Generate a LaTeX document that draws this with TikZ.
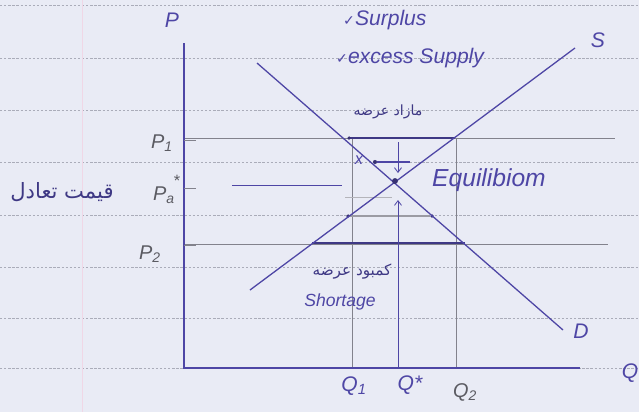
\documentclass[tikz,border=0pt]{standalone}
\usepackage{fontspec}
\setmainfont{Liberation Sans}
\newfontfamily\symfont{DejaVu Sans}
\newfontfamily\arabicfont[Script=Arabic]{DejaVu Sans}
\TeXXeTstate=1
\newcommand\mychk{{\symfont\fontsize{12}{12}\selectfont ✓}}
\usetikzlibrary{arrows.meta}
\definecolor{paper}{RGB}{233,235,245}
\definecolor{ink}{RGB}{78,70,165}
\definecolor{pencil}{RGB}{130,130,140}
\definecolor{rule}{RGB}{170,172,185}
\definecolor{margin}{RGB}{240,215,230}
\begin{document}
\begin{tikzpicture}[x=0.03cm,y=-0.03cm,
  inkline/.style={draw=ink,line width=1.1pt},
  thinink/.style={draw=ink,line width=0.7pt},
  grayline/.style={draw=pencil,line width=0.6pt},
  boldseg/.style={draw=ink!80!black,line width=2pt},
  ruled/.style={draw=rule,dashed,dash pattern=on 2pt off 1.5pt,line width=0.5pt},
  lab/.style={text=ink,font=\itshape\fontsize{18}{20}\selectfont,inner sep=0pt},
  glab/.style={text=pencil!70!black,font=\itshape\fontsize{17}{19}\selectfont,inner sep=0pt},
  fa/.style={text=ink!80!black,font=\arabicfont\fontsize{12}{14}\selectfont,inner sep=0pt},
  dot/.style={circle,fill=ink!70!black,inner sep=0pt,minimum size=4pt}]
\fill[paper] (0,0) rectangle (639,412);
\useasboundingbox (0,0) rectangle (639,412);
% ruled paper
\foreach \yy in {5,58,110,162,215,267,318,368}{\draw[ruled] (0,\yy) -- (639,\yy);}
\draw[margin,line width=0.6pt] (82,0) -- (82,412);
% coordinates
\coordinate (O) at (184,368);
\coordinate (Ptop) at (184,43);
\coordinate (Qend) at (580,368);
\coordinate (D1) at (257,63);
\coordinate (D2) at (563,330);
\coordinate (S1) at (250,290);
\coordinate (S2) at (575,48);
\coordinate (P1a) at (184,138);
\coordinate (P1b) at (615,138);
\coordinate (P2a) at (184,244);
\coordinate (P2b) at (608,244);
\coordinate (P1L) at (349,138);
\coordinate (P1R) at (455,138);
\coordinate (P2L) at (312,243);
\coordinate (P2R) at (465,243);
\coordinate (Q1t) at (352,138);
\coordinate (Q1b) at (352,368);
\coordinate (Q2t) at (456,138);
\coordinate (Q2b) at (456,368);
\coordinate (Qsb) at (398,368);
\coordinate (Qst) at (398,200);
\coordinate (DAt) at (398,142);
\coordinate (DAb) at (398,173);
\coordinate (PsL) at (232,185);
\coordinate (PsR) at (342,185);
\coordinate (XR) at (410,162);
\coordinate (T1a) at (184,140); \coordinate (T1b) at (196,140);
\coordinate (T2a) at (184,188); \coordinate (T2b) at (196,188);
\coordinate (T3a) at (184,245); \coordinate (T3b) at (196,245);
% gray pencil lines
\draw[grayline] (P1a) -- (P1b);
\draw[grayline] (P2a) -- (P2b);
\draw[grayline] (Q1t) -- (Q1b);
\draw[grayline] (Q2t) -- (Q2b);
\draw[draw=pencil!60,line width=0.5pt] (345,197) -- (392,197);
% axes
\draw[inkline] (Ptop) -- (O) -- (Qend);
\draw[grayline] (T1a) -- (T1b);
\draw[grayline] (T2a) -- (T2b);
\draw[grayline] (T3a) -- (T3b);
% surplus / shortage segments
\draw[boldseg] (P1L) -- (P1R);
\draw[boldseg] (P2L) -- (P2R);
\node[dot,minimum size=3pt] (dP1) at (349,138) {};
\node[dot,minimum size=3pt] (dM1) at (348,216) {};
\node[dot,minimum size=3pt] (dM2) at (432,216) {};
\draw[draw=pencil!80,line width=1.6pt] (dM1) -- (dM2);
% x segment
\node[dot,minimum size=3.5pt] (dX) at (375,162) {};
\draw[draw=ink,line width=1.4pt] (dX) -- (XR);
\node[lab,font=\itshape\fontsize{14}{16}\selectfont] (xl) at (359,160) {x};
% equilibrium price line
\draw[thinink] (PsL) -- (PsR);
% curves
\draw[inkline] (D1) -- (D2);
\draw[inkline] (S1) -- (S2);
\node[dot,minimum size=5pt] (E) at (395,181) {};
% arrows
\draw[thinink,-{Straight Barb[length=4pt,width=6pt]}] (DAt) -- (DAb);
\draw[thinink,-{Straight Barb[length=4pt,width=6pt]}] (Qsb) -- (Qst);
% labels
\node[lab] (Plab) at (172,20) {P};
\node[glab] (P1lab) at (162,143) {P\textsubscript{1}};
\node[glab] (Pslab) at (164,195) {P\textsubscript{a}};
\node[glab,font=\fontsize{14}{16}\selectfont] (Psstar) at (177,181) {*};
\node[glab] (P2lab) at (150,254) {P\textsubscript{2}};
\node[fa,font=\arabicfont\fontsize{18}{20}\selectfont] (pfa) at (62,192) {\beginR قیمت تعادل\endR};
\node[lab] (Q1lab) at (354,386) {Q\textsubscript{1}};
\node[lab] (Qslab) at (410,385) {Q*};
\node[glab] (Q2lab) at (465,392) {Q\textsubscript{2}};
\node[lab] (Qlab) at (630,373) {Q};
\node[lab] (Slab) at (598,40) {S};
\node[lab] (Dlab) at (581,331) {D};
\node[lab,anchor=west,font=\itshape\fontsize{21}{23}\selectfont] (Eq) at (432,180) {Equilibiom};
\node[lab,anchor=west] (Sur) at (343,20) {\mychk Surplus};
\node[lab,anchor=west] (Exc) at (336,58) {\mychk excess Supply};
\node[fa] (mazad) at (388,112) {\beginR مازاد عرضه\endR};
\node[fa,font=\arabicfont\fontsize{13}{15}\selectfont] (kambud) at (352,272) {\beginR کمبود عرضه\endR};
\node[lab,font=\itshape\fontsize{15}{17}\selectfont] (Short) at (340,302) {Shortage};
\end{tikzpicture}
\end{document}
